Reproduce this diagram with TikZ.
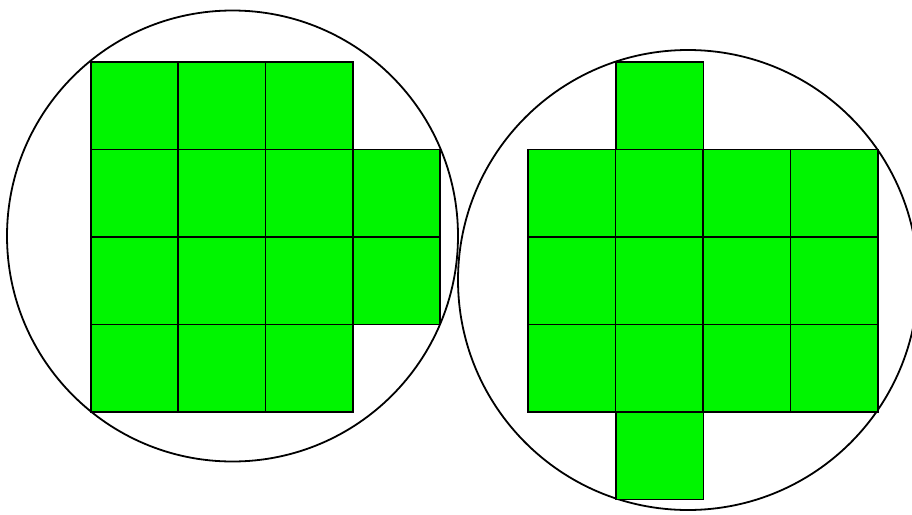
\documentclass[tikz,border=0pt]{standalone}
\definecolor{cellgreen}{RGB}{0,245,0}
\tikzset{
  cell/.style={fill=cellgreen,draw=black,line width=1.8pt},
  ring/.style={draw=black,line width=1.8pt}
}
\begin{document}
\begin{tikzpicture}[x=1pt,y=-1pt]
\useasboundingbox (0,0) rectangle (912,514);
% left circle and cells
\draw[ring] (232.5,236) circle (225.5);
\foreach \c in {0,1,2}{\foreach \r in {0,1,2,3}{
  \draw[cell] (91+87.25*\c,62+87.5*\r) rectangle ++(87.25,87.5);}}
\foreach \r in {1,2}{\draw[cell] (352.75,62+87.5*\r) rectangle ++(87.25,87.5);}
% right circle and cells
\draw[ring] (688,280) circle (230);
\draw[cell] (616,62) rectangle ++(87.5,87.5);
\foreach \c in {0,1,2,3}{\foreach \r in {1,2,3}{
  \draw[cell] (528+87.5*\c,62+87.5*\r) rectangle ++(87.5,87.5);}}
\draw[cell] (616,412) rectangle ++(87.5,87.5);
\end{tikzpicture}
\end{document}
